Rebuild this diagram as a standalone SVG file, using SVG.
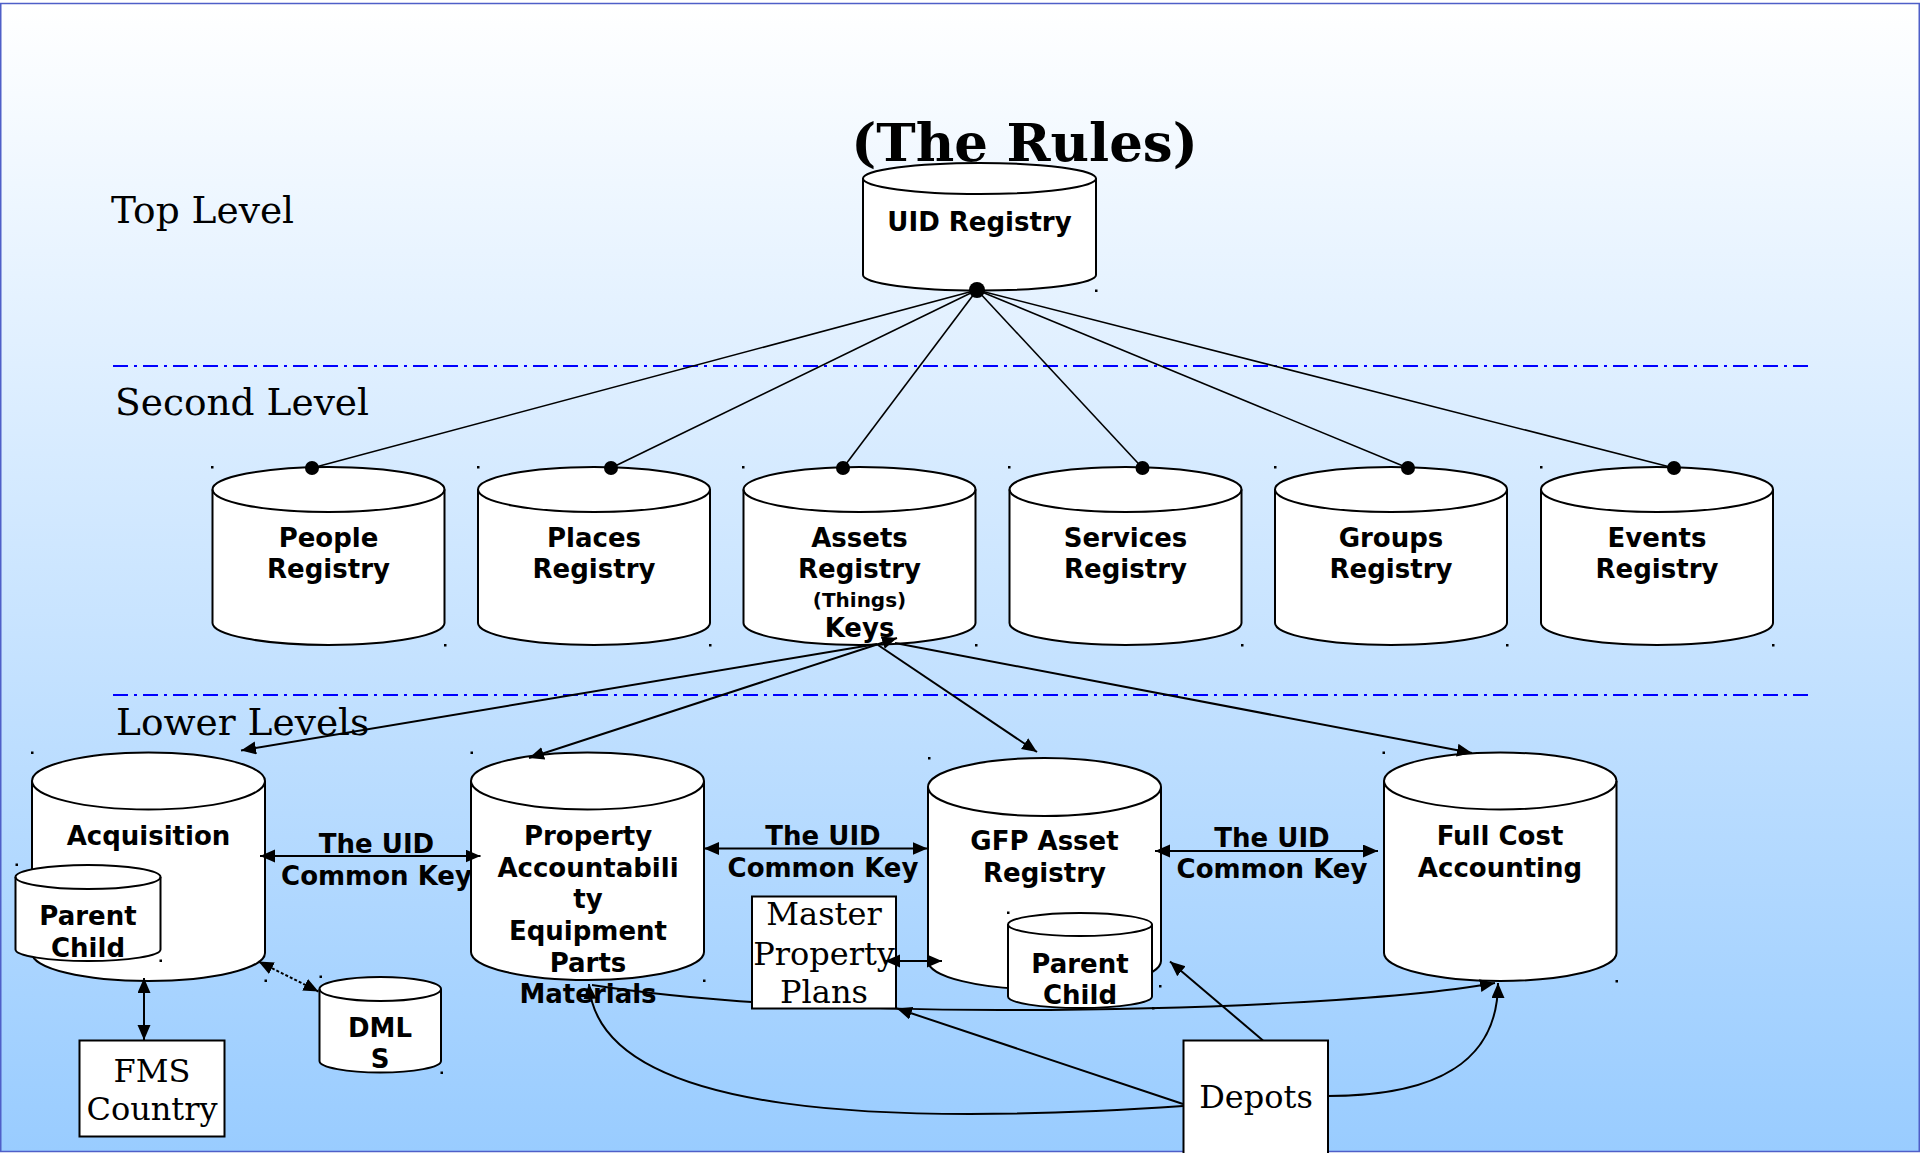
<svg xmlns="http://www.w3.org/2000/svg" width="1920" height="1153" viewBox="0 0 1920 1153">
<defs>
<linearGradient id="bg" x1="0" y1="0" x2="0" y2="1">
<stop offset="0" stop-color="#ffffff"/>
<stop offset="1" stop-color="#99ccff"/>
</linearGradient>
<marker id="ah" markerUnits="userSpaceOnUse" markerWidth="16" markerHeight="14" refX="15" refY="6.5" orient="auto-start-reverse" viewBox="0 0 16 14">
<path d="M0,0 L15,6.5 L0,13 Z" fill="#000"/>
</marker>
<style>
.cyl{fill:#fff;stroke:#000;stroke-width:2}
.cap{fill:none;stroke:#000;stroke-width:2}
.box{fill:#fff;stroke:#000;stroke-width:2}
.lb{font-family:"DejaVu Sans","Liberation Sans",sans-serif;font-weight:bold;font-size:26px;text-anchor:middle;fill:#000}
.sm{font-size:20px}
.sf{font-family:"DejaVu Serif","Liberation Serif",serif;font-size:32px;text-anchor:middle;fill:#000}
.lvl{font-family:"DejaVu Serif","Liberation Serif",serif;font-size:37.5px;fill:#000}
.sep{stroke:#0000ff;stroke-width:2;stroke-dasharray:15,6,3,6;fill:none}
.ln{stroke:#000;stroke-width:2;fill:none}
.fan{stroke:#000;stroke-width:1.6;fill:none}
.arr{stroke:#000;stroke-width:2;fill:none;marker-end:url(#ah)}
.arr2{stroke:#000;stroke-width:2;fill:none;marker-start:url(#ah);marker-end:url(#ah)}
.dot{fill:#000}
.hd{fill:#000}
</style>
</defs>
<rect x="0" y="0" width="1920" height="1153" fill="#ffffff"/>
<rect x="0.75" y="3.5" width="1918.5" height="1148" fill="url(#bg)" stroke="#4f5fc8" stroke-width="1.5"/>

<g id="levels">
<line class="sep" x1="113" y1="366" x2="1808" y2="366"/>
<line class="sep" x1="113" y1="695" x2="1808" y2="695"/>
<text class="lvl" x="111" y="223">Top Level</text>
<text class="lvl" x="115" y="415">Second Level</text>
<text class="lvl" x="116" y="735">Lower Levels</text>
</g>

<g id="title">
<text x="1024.5" y="161" font-family="'DejaVu Serif','Liberation Serif',serif" font-weight="bold" font-size="53" text-anchor="middle">(The Rules)</text>
</g>

<g id="uid-registry">
<path class="cyl" d="M863,178.5 A116.5,15.5 0 0 1 1096,178.5 L1096,275 A116.5,15.5 0 0 1 863,275 Z"/>
<path class="cap" d="M863,178.5 A116.5,15.5 0 0 0 1096,178.5"/>
<text class="lb" x="979.5" y="231">UID Registry</text>
<rect class="hd" x="1095" y="289.5" width="2.5" height="2.5"/>
</g>

<g id="people-registry">
<path class="cyl" d="M212.5,489.5 A116,22.5 0 0 1 444.5,489.5 L444.5,623 A116,22 0 0 1 212.5,623 Z"/>
<path class="cap" d="M212.5,489.5 A116,22.5 0 0 0 444.5,489.5"/>
<text class="lb" x="328.5" y="547">People</text>
<text class="lb" x="328.5" y="578">Registry</text>
<rect class="hd" x="211" y="466" width="2.5" height="2.5"/>
<rect class="hd" x="444" y="644" width="2.5" height="2.5"/>
</g>

<g id="places-registry">
<path class="cyl" d="M478,489.5 A116,22.5 0 0 1 710,489.5 L710,623 A116,22 0 0 1 478,623 Z"/>
<path class="cap" d="M478,489.5 A116,22.5 0 0 0 710,489.5"/>
<text class="lb" x="594" y="547">Places</text>
<text class="lb" x="594" y="578">Registry</text>
<rect class="hd" x="477" y="466" width="2.5" height="2.5"/>
<rect class="hd" x="709" y="644" width="2.5" height="2.5"/>
</g>

<g id="assets-registry">
<path class="cyl" d="M743.5,489.5 A116,22.5 0 0 1 975.5,489.5 L975.5,623 A116,22 0 0 1 743.5,623 Z"/>
<path class="cap" d="M743.5,489.5 A116,22.5 0 0 0 975.5,489.5"/>
<text class="lb" x="859.5" y="547">Assets</text>
<text class="lb" x="859.5" y="578">Registry</text>
<text class="lb sm" x="859.5" y="607">(Things)</text>
<text class="lb" x="859.5" y="637">Keys</text>
<rect class="hd" x="742" y="466" width="2.5" height="2.5"/>
<rect class="hd" x="975" y="644" width="2.5" height="2.5"/>
</g>

<g id="services-registry">
<path class="cyl" d="M1009.5,489.5 A116,22.5 0 0 1 1241.5,489.5 L1241.5,623 A116,22 0 0 1 1009.5,623 Z"/>
<path class="cap" d="M1009.5,489.5 A116,22.5 0 0 0 1241.5,489.5"/>
<text class="lb" x="1125.5" y="547">Services</text>
<text class="lb" x="1125.5" y="578">Registry</text>
<rect class="hd" x="1008" y="466" width="2.5" height="2.5"/>
<rect class="hd" x="1241" y="644" width="2.5" height="2.5"/>
</g>

<g id="groups-registry">
<path class="cyl" d="M1275,489.5 A116,22.5 0 0 1 1507,489.5 L1507,623 A116,22 0 0 1 1275,623 Z"/>
<path class="cap" d="M1275,489.5 A116,22.5 0 0 0 1507,489.5"/>
<text class="lb" x="1391" y="547">Groups</text>
<text class="lb" x="1391" y="578">Registry</text>
<rect class="hd" x="1274" y="466" width="2.5" height="2.5"/>
<rect class="hd" x="1506" y="644" width="2.5" height="2.5"/>
</g>

<g id="events-registry">
<path class="cyl" d="M1541,489.5 A116,22.5 0 0 1 1773,489.5 L1773,623 A116,22 0 0 1 1541,623 Z"/>
<path class="cap" d="M1541,489.5 A116,22.5 0 0 0 1773,489.5"/>
<text class="lb" x="1657" y="547">Events</text>
<text class="lb" x="1657" y="578">Registry</text>
<rect class="hd" x="1540" y="466" width="2.5" height="2.5"/>
<rect class="hd" x="1772" y="644" width="2.5" height="2.5"/>
</g>

<g id="acquisition">
<path class="cyl" d="M32,781 A116.5,28.5 0 0 1 265,781 L265,953 A116.5,28 0 0 1 32,953 Z"/>
<path class="cap" d="M32,781 A116.5,28.5 0 0 0 265,781"/>
<text class="lb" x="148.5" y="845">Acquisition</text>
<rect class="hd" x="31" y="751.5" width="2.5" height="2.5"/>
<rect class="hd" x="264.5" y="979.5" width="2.5" height="2.5"/>
</g>

<g id="acquisition-parent-child">
<path class="cyl" d="M15.5,877 A72.5,12 0 0 1 160.5,877 L160.5,949.5 A72.5,11.5 0 0 1 15.5,949.5 Z"/>
<path class="cap" d="M15.5,877 A72.5,12 0 0 0 160.5,877"/>
<text class="lb" x="88" y="925">Parent</text>
<text class="lb" x="88" y="956.5">Child</text>
<rect class="hd" x="15.5" y="863.5" width="2.5" height="2.5"/>
<rect class="hd" x="159.5" y="959.5" width="2.5" height="2.5"/>
</g>

<g id="property-accountability">
<path class="cyl" d="M471,781 A116.5,28.5 0 0 1 704,781 L704,952 A116.5,28 0 0 1 471,952 Z"/>
<path class="cap" d="M471,781 A116.5,28.5 0 0 0 704,781"/>
<text class="lb" x="588" y="845">Property</text>
<text class="lb" x="588" y="876.5">Accountabili</text>
<text class="lb" x="588" y="908">ty</text>
<text class="lb" x="588" y="940">Equipment</text>
<text class="lb" x="588" y="971.5">Parts</text>
<text class="lb" x="588" y="1003">Materials</text>
<rect class="hd" x="470.5" y="751.5" width="2.5" height="2.5"/>
<rect class="hd" x="703" y="979.5" width="2.5" height="2.5"/>
</g>

<g id="gfp-asset-registry">
<path class="cyl" d="M928,787 A116.5,29 0 0 1 1161,787 L1161,961 A116.5,28.5 0 0 1 928,961 Z"/>
<path class="cap" d="M928,787 A116.5,29 0 0 0 1161,787"/>
<text class="lb" x="1044.5" y="850">GFP Asset</text>
<text class="lb" x="1044.5" y="881.5">Registry</text>
<rect class="hd" x="928" y="757" width="2.5" height="2.5"/>
<rect class="hd" x="1159" y="985" width="2.5" height="2.5"/>
</g>

<g id="gfp-parent-child">
<path class="cyl" d="M1008,924.5 A72,11.5 0 0 1 1152,924.5 L1152,996.5 A72,11.5 0 0 1 1008,996.5 Z"/>
<path class="cap" d="M1008,924.5 A72,11.5 0 0 0 1152,924.5"/>
<text class="lb" x="1080" y="973">Parent</text>
<text class="lb" x="1080" y="1003.5">Child</text>
<rect class="hd" x="1007" y="911.5" width="2.5" height="2.5"/>
<rect class="hd" x="1152" y="1007" width="2.5" height="2.5"/>
</g>

<g id="full-cost-accounting">
<path class="cyl" d="M1384,781 A116.25,28.5 0 0 1 1616.5,781 L1616.5,953 A116.25,28 0 0 1 1384,953 Z"/>
<path class="cap" d="M1384,781 A116.25,28.5 0 0 0 1616.5,781"/>
<text class="lb" x="1500" y="845">Full Cost</text>
<text class="lb" x="1500" y="876.5">Accounting</text>
<rect class="hd" x="1382.5" y="751.5" width="2.5" height="2.5"/>
<rect class="hd" x="1615.5" y="980" width="2.5" height="2.5"/>
</g>

<g id="dmls">
<path class="cyl" d="M319.5,989 A60.75,12 0 0 1 441,989 L441,1061 A60.75,11.5 0 0 1 319.5,1061 Z"/>
<path class="cap" d="M319.5,989 A60.75,12 0 0 0 441,989"/>
<text class="lb" x="380" y="1036.5">DML</text>
<text class="lb" x="380" y="1068">S</text>
<rect class="hd" x="319.5" y="975.5" width="2.5" height="2.5"/>
<rect class="hd" x="440.5" y="1071.5" width="2.5" height="2.5"/>
</g>

<g id="fms-country">
<rect class="box" x="79.5" y="1040.5" width="145" height="96"/>
<text class="sf" x="152" y="1081.5">FMS</text>
<text class="sf" x="152" y="1120">Country</text>
</g>

<g id="connectors">
<line class="fan" x1="977" y1="290" x2="312" y2="468"/>
<line class="fan" x1="977" y1="290" x2="611" y2="468"/>
<line class="fan" x1="977" y1="290" x2="843" y2="468"/>
<line class="fan" x1="977" y1="290" x2="1142.5" y2="468"/>
<line class="fan" x1="977" y1="290" x2="1408" y2="468"/>
<line class="fan" x1="977" y1="290" x2="1674" y2="468"/>
<circle class="dot" cx="977" cy="290" r="8"/>
<circle class="dot" cx="312" cy="468" r="7"/>
<circle class="dot" cx="611" cy="468" r="7"/>
<circle class="dot" cx="843" cy="468" r="7"/>
<circle class="dot" cx="1142.5" cy="468" r="7"/>
<circle class="dot" cx="1408" cy="468" r="7"/>
<circle class="dot" cx="1674" cy="468" r="7"/>

<path class="arr" d="M877,644 L241,750.5"/>
<path class="arr2" d="M897,638 L529,758"/>
<path class="arr" d="M878,645 L1037,752"/>
<path class="arr" d="M895,643 L1472,753"/>

<path class="arr2" d="M260,856 L480.5,856"/>
<text class="lb" x="376.5" y="853">The UID</text>
<text class="lb" x="376.5" y="885">Common Key</text>
<path class="arr2" d="M704,848.5 L927.5,848.5"/>
<text class="lb" x="823" y="845">The UID</text>
<text class="lb" x="823" y="876.5">Common Key</text>
<path class="arr2" d="M1155,851 L1378,851"/>
<text class="lb" x="1272" y="846.5">The UID</text>
<text class="lb" x="1272" y="878">Common Key</text>

<path class="arr2" d="M144,978 L144,1040"/>
<path class="arr2" d="M258.5,961.5 L318.5,991.5" stroke-dasharray="3,2"/>

<path class="ln" d="M592,985 C700,1002 850,1010 1000,1010 C1200,1010 1400,1000 1495,983" marker-end="url(#ah)"/>
<path class="arr" d="M1183,1106 C900,1125 598,1120 589,984"/>
<path class="arr" d="M1328,1096 C1440,1096 1498,1060 1498,983"/>
<path class="arr" d="M1183,1104 L897,1008.5"/>
<path class="arr" d="M1263,1040.5 L1170,961.5"/>
</g>

<g id="master-property-plans">
<rect class="box" x="752" y="896.5" width="144" height="112"/>
<text class="sf" x="824" y="925">Master</text>
<text class="sf" x="824" y="965">Property</text>
<text class="sf" x="824" y="1003">Plans</text>
</g>

<g id="master-gfp-link">
<path class="arr2" d="M885,961 L942,961"/>
</g>

<g id="depots">
<rect class="box" x="1183.5" y="1040.5" width="144.5" height="125"/>
<text class="sf" x="1256" y="1108">Depots</text>
</g>
</svg>
